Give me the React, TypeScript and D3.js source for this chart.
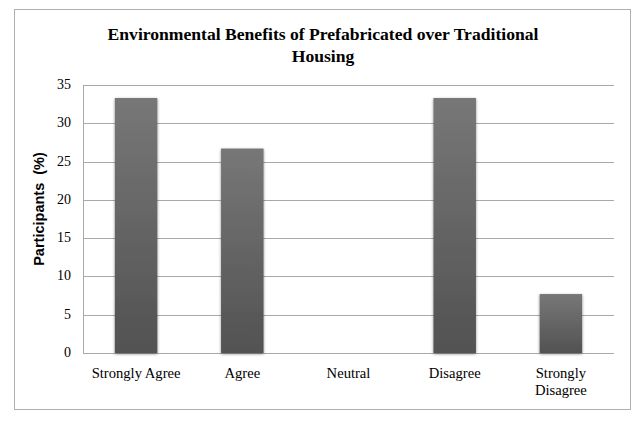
import React from "react";
import * as d3 from "d3";

const categories: string[][] = [
  ["Strongly Agree"],
  ["Agree"],
  ["Neutral"],
  ["Disagree"],
  ["Strongly", "Disagree"],
];
const values: number[] = [33.3, 26.7, 0, 33.3, 7.7];
const yTicks: number[] = [0, 5, 10, 15, 20, 25, 30, 35];
const titleLines: string[] = [
  "Environmental Benefits of Prefabricated over Traditional",
  "Housing",
];
const yLabel = "Participants  (%)";

export default function App() {
  const W = 644;
  const H = 423;
  const left = 83;
  const right = 614;
  const top = 85;
  const bottom = 353;

  const x = d3
    .scaleBand<number>()
    .domain(d3.range(categories.length))
    .range([left, right])
    .paddingInner(0.6)
    .paddingOuter(0.3);
  const y = d3.scaleLinear().domain([0, 35]).range([bottom, top]);

  const serif = "Liberation Serif";

  return (
    <svg
      width={W}
      height={H}
      style={{ position: "absolute", left: 0, top: 0 }}
    >
      <defs>
        <linearGradient id="barGrad" x1="0" y1="0" x2="0" y2="1">
          <stop offset="0%" stopColor="#777777" />
          <stop offset="100%" stopColor="#525252" />
        </linearGradient>
        <filter id="shadow" x="-30%" y="-10%" width="160%" height="120%">
          <feGaussianBlur in="SourceAlpha" stdDeviation="1.5" />
          <feOffset dx="0" dy="1" result="b" />
          <feComponentTransfer>
            <feFuncA type="linear" slope="0.45" />
          </feComponentTransfer>
          <feMerge>
            <feMergeNode />
            <feMergeNode in="SourceGraphic" />
          </feMerge>
        </filter>
      </defs>
      <rect x={0} y={0} width={W} height={H} fill="#ffffff" />
      <rect
        x={14.5}
        y={9.5}
        width={616}
        height={400}
        fill="#ffffff"
        stroke="#b0b0b0"
        strokeWidth={1}
      />
      {titleLines.map((t, i) => (
        <text
          key={i}
          x={323}
          y={40 + i * 22}
          textAnchor="middle"
          style={{ fontFamily: serif, fontWeight: "bold", fontSize: "17.6px" }}
          fill="#000"
        >
          {t}
        </text>
      ))}
      {yTicks.map((t) => (
        <g key={t}>
          <line
            x1={left}
            x2={right}
            y1={Math.round(y(t)) + 0.5}
            y2={Math.round(y(t)) + 0.5}
            stroke="#a8a8a8"
            strokeWidth={1}
          />
          <text
            x={71}
            y={y(t) + 4}
            textAnchor="end"
            style={{ fontFamily: serif, fontSize: "14px" }}
            fill="#000"
          >
            {t}
          </text>
        </g>
      ))}
      <line
        x1={left + 0.5}
        x2={left + 0.5}
        y1={top}
        y2={bottom}
        stroke="#a8a8a8"
        strokeWidth={1}
      />
      {values.map((v, i) =>
        v > 0 ? (
          <rect
            key={i}
            x={x(i)!}
            y={y(v)}
            width={x.bandwidth()}
            height={bottom - y(v)}
            fill="url(#barGrad)"
            filter="url(#shadow)"
          />
        ) : null
      )}
      {categories.map((lines, i) => (
        <text
          key={i}
          textAnchor="middle"
          style={{ fontFamily: serif, fontSize: "14.6px" }}
          fill="#000"
        >
          {lines.map((l, j) => (
            <tspan key={j} x={x(i)! + x.bandwidth() / 2} y={378 + j * 17}>
              {l}
            </tspan>
          ))}
        </text>
      ))}
      <text
        transform={`translate(44, 209) rotate(-90)`}
        textAnchor="middle"
        style={{
          fontFamily: "Liberation Sans",
          fontWeight: "bold",
          fontSize: "14.5px",
          whiteSpace: "pre",
        }}
        fill="#000"
      >
        {yLabel}
      </text>
    </svg>
  );
}
